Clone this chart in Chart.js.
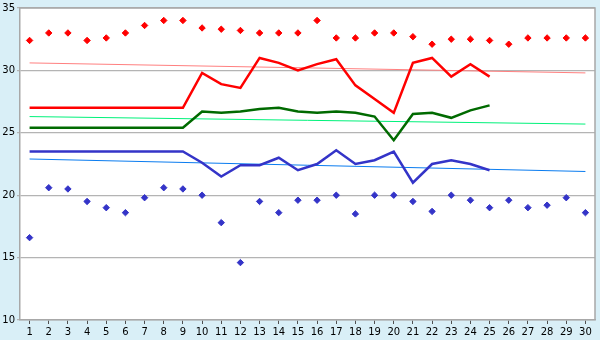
<!DOCTYPE html>
<html>
<head>
<meta charset="utf-8">
<script src="https://cdn.jsdelivr.net/npm/chart.js@4"></script>
<style>
  html, body { margin: 0; padding: 0; background: #d9eff7; }
  canvas { display: block; }
</style>
</head>
<body>
<canvas id="chart" width="600" height="340"></canvas>
<script>
const days = ['1','2','3','4','5','6','7','8','9','10','11','12','13','14','15',
              '16','17','18','19','20','21','22','23','24','25','26','27','28','29','30'];

const maxPoints = [32.4, 33.0, 33.0, 32.4, 32.6, 33.0, 33.6, 34.0, 34.0, 33.4,
                   33.3, 33.2, 33.0, 33.0, 33.0, 34.0, 32.6, 32.6, 33.0, 33.0,
                   32.7, 32.1, 32.5, 32.5, 32.4, 32.1, 32.6, 32.6, 32.6, 32.6];
const minPoints = [16.6, 20.6, 20.5, 19.5, 19.0, 18.6, 19.8, 20.6, 20.5, 20.0,
                   17.8, 14.6, 19.5, 18.6, 19.6, 19.6, 20.0, 18.5, 20.0, 20.0,
                   19.5, 18.7, 20.0, 19.6, 19.0, 19.6, 19.0, 19.2, 19.8, 18.6];

const maxLine = [27.0, 27.0, 27.0, 27.0, 27.0, 27.0, 27.0, 27.0, 27.0, 29.8,
                 28.9, 28.6, 31.0, 30.6, 30.0, 30.5, 30.9, 28.8, 27.7, 26.6,
                 30.6, 31.0, 29.5, 30.5, 29.5];
const meanLine = [25.4, 25.4, 25.4, 25.4, 25.4, 25.4, 25.4, 25.4, 25.4, 26.7,
                  26.6, 26.7, 26.9, 27.0, 26.7, 26.6, 26.7, 26.6, 26.3, 24.4,
                  26.5, 26.6, 26.2, 26.8, 27.2];
const minLine = [23.5, 23.5, 23.5, 23.5, 23.5, 23.5, 23.5, 23.5, 23.5, 22.6,
                 21.5, 22.4, 22.4, 23.0, 22.0, 22.5, 23.6, 22.5, 22.8, 23.5,
                 21.0, 22.5, 22.8, 22.5, 22.0];

// trend lines: start (day 1) and end (day 30)
const maxTrend = [30.6, 29.8];
const meanTrend = [26.3, 25.7];
const minTrend = [22.9, 21.9];

function trend(ends) {
    const arr = days.map(() => null);
    arr[0] = ends[0];
    arr[days.length - 1] = ends[1];
    return arr;
}

const frame = {
    id: 'frame',
    beforeDraw(chart) {
        const a = chart.chartArea, c = chart.ctx;
        c.save();
        c.fillStyle = '#ffffff';
        c.fillRect(a.left, a.top, a.right - a.left, a.bottom - a.top);
        c.restore();
    },
    afterDraw(chart) {
        const a = chart.chartArea, c = chart.ctx;
        c.save();
        c.strokeStyle = '#a8a8a8';
        c.lineWidth = 1.5;
        c.beginPath();
        c.moveTo(a.left, a.top);
        c.lineTo(a.right, a.top);
        c.lineTo(a.right, a.bottom);
        c.stroke();
        c.restore();
    }
};

Chart.defaults.font.family = 'DejaVu Sans';
Chart.defaults.font.size = 10;
Chart.defaults.color = '#000000';

new Chart(document.getElementById('chart'), {
    type: 'line',
    data: {
        labels: days,
        datasets: [
            { data: maxLine, borderColor: '#ff0000', borderWidth: 2.5, pointRadius: 0, order: 1 },
            { data: meanLine, borderColor: '#006a00', borderWidth: 2.5, pointRadius: 0, order: 1 },
            { data: minLine, borderColor: '#3434c8', borderWidth: 2.5, pointRadius: 0, order: 1 },
            { data: maxPoints, showLine: false, pointStyle: 'rectRot', pointRadius: 3.2,
              backgroundColor: '#ff0000', borderColor: '#ff0000', borderWidth: 1, order: 2 },
            { data: minPoints, showLine: false, pointStyle: 'rectRot', pointRadius: 3.2,
              backgroundColor: '#3434c8', borderColor: '#3434c8', borderWidth: 1, order: 2 },
            { data: trend(maxTrend), borderColor: '#ff8080', borderWidth: 1, pointRadius: 0, spanGaps: true, order: 3 },
            { data: trend(meanTrend), borderColor: '#00f27a', borderWidth: 1, pointRadius: 0, spanGaps: true, order: 3 },
            { data: trend(minTrend), borderColor: '#0a7cf0', borderWidth: 1, pointRadius: 0, spanGaps: true, order: 3 }
        ]
    },
    options: {
        responsive: false,
        animation: false,
        layout: { padding: { left: 0, top: 5, right: 5, bottom: 0 } },
        plugins: { legend: { display: false }, tooltip: { enabled: false } },
        elements: { line: { tension: 0 } },
        scales: {
            x: {
                offset: true,
                grid: { drawOnChartArea: false, drawTicks: true, tickLength: 4, color: '#505050' },
                border: { color: '#a8a8a8', width: 1.5 },
                ticks: { autoSkip: false, maxRotation: 0, padding: 2 },
                afterFit(scale) { scale.height = 20; }
            },
            y: {
                min: 10,
                max: 35,
                ticks: { stepSize: 5, padding: 2 },
                grid: { color: '#b4b4b4', lineWidth: 1.2, tickLength: 3 },
                border: { color: '#a8a8a8', width: 1.5 },
                afterFit(scale) { scale.width = 20; }
            }
        }
    },
    plugins: [frame]
});
</script>
</body>
</html>
